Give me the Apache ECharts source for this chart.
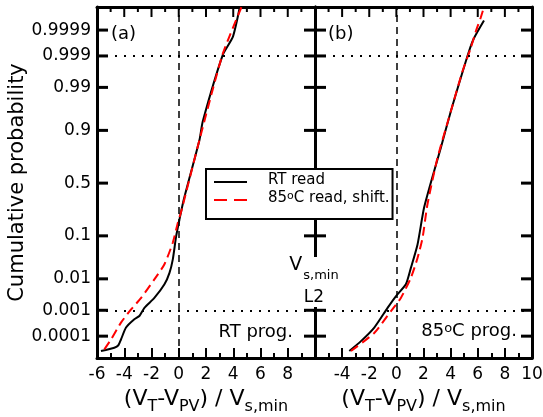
<!DOCTYPE html>
<html>
<head>
<meta charset="utf-8">
<script src="https://cdn.jsdelivr.net/npm/echarts@6/dist/echarts.min.js"></script>
<style>
html, body { margin: 0; padding: 0; background: #fff; }
#chart { width: 543px; height: 417px; }
</style>
</head>
<body>
<div id="chart"></div>
<script>
// probability scale ticks
var probTicks = [0.0001, 0.001, 0.01, 0.1, 0.5, 0.9, 0.99, 0.999, 0.9999];
var probLabels = ['0.0001', '0.001', '0.01', '0.1', '0.5', '0.9', '0.99', '0.999', '0.9999'];
var refProbs = [0.001, 0.999];
// x tick positions mirrored on the top edge (majors are the even ones)
var xTicks = [-6, -5, -4, -3, -2, -1, 0, 1, 2, 3, 4, 5, 6, 7, 8, 9, 10];

// (a) RT prog.
var aRtX = [-5.71, -4.73, -4.43, -4.24, -3.87, -3.26, -2.89, -2.52, -1.79, -1.05, -0.68, -0.44, -0.19, 0.05, 0.37, 1.52, 1.76, 3.24, 3.97, 4.46];
var aRtP = [0.0000225, 0.0000317, 0.0000407, 0.0000723, 0.000224, 0.000466, 0.000619, 0.00122, 0.00264, 0.00695, 0.0146, 0.0314, 0.0985, 0.187, 0.345, 0.853, 0.933, 0.9991, 0.99981, 0.999989];
var aHotX = [-5.46, -4.97, -4.24, -3.50, -2.76, -1.79, -1.05, -0.44, -0.07, 0.22, 1.52, 3.21, 4.61];
var aHotP = [0.0000267, 0.0000723, 0.000350, 0.00107, 0.00264, 0.00964, 0.0244, 0.0735, 0.166, 0.2611, 0.853, 0.9991, 0.9999907];

// (b) 85C prog.
var bRtX = [-3.47, -2.61, -1.63, -0.65, -0.04, 0.70, 1.07, 1.56, 2.04, 2.78, 3.27, 4.01, 4.74, 5.35, 5.72, 6.46];
var bRtP = [0.0000225, 0.0000615, 0.000224, 0.00122, 0.00298, 0.00695, 0.0197, 0.0681, 0.2743, 0.6141, 0.8023, 0.9591, 0.99461, 0.99931, 0.999784, 0.999961];
var bHotX = [-3.35, -1.63, -0.40, 0.33, 1.07, 1.56, 1.93, 2.29, 3.03, 4.01, 4.87, 5.48, 5.85, 6.21, 6.46];
var bHotP = [0.0000225, 0.000136, 0.000936, 0.00264, 0.0107, 0.0344, 0.0918, 0.3015, 0.7291, 0.9591, 0.99664, 0.99948, 0.999883, 0.99997, 0.9999907];

var FONT = 'DejaVu Sans';
var nameRt = 'RT read';
var nameHot = '85°C read, shift.';
var X_MIN = -6, X_MAX = 10;
var Y_MIN = -4.25, Y_MAX = 4.28;

// inverse normal cdf (Acklam), used as the probability-scale transform
function probit(p) {
    var a = [-3.969683028665376e+01, 2.209460984245205e+02, -2.759285104469687e+02, 1.383577518672690e+02, -3.066479806614716e+01, 2.506628277459239e+00];
    var b = [-5.447609879822406e+01, 1.615858368580409e+02, -1.556989798598866e+02, 6.680131188771972e+01, -1.328068155288572e+01];
    var c = [-7.784894002430293e-03, -3.223964580411365e-01, -2.400758277161838e+00, -2.549732539343734e+00, 4.374664141464968e+00, 2.938163982698783e+00];
    var d = [7.784695709041462e-03, 3.224671290700398e-01, 2.445134137142996e+00, 3.754408661907416e+00];
    var plow = 0.02425, q, r;
    if (p < plow) {
        q = Math.sqrt(-2 * Math.log(p));
        return (((((c[0] * q + c[1]) * q + c[2]) * q + c[3]) * q + c[4]) * q + c[5]) / ((((d[0] * q + d[1]) * q + d[2]) * q + d[3]) * q + 1);
    }
    if (p > 1 - plow) {
        q = Math.sqrt(-2 * Math.log(1 - p));
        return -(((((c[0] * q + c[1]) * q + c[2]) * q + c[3]) * q + c[4]) * q + c[5]) / ((((d[0] * q + d[1]) * q + d[2]) * q + d[3]) * q + 1);
    }
    q = p - 0.5;
    r = q * q;
    return (((((a[0] * r + a[1]) * r + a[2]) * r + a[3]) * r + a[4]) * r + a[5]) * q / (((((b[0] * r + b[1]) * r + b[2]) * r + b[3]) * r + b[4]) * r + 1);
}

var tickZ = probTicks.map(probit);

function labelFor(v) {
    var best = 0;
    for (var i = 1; i < tickZ.length; i++) {
        if (Math.abs(tickZ[i] - v) < Math.abs(tickZ[best] - v)) best = i;
    }
    return probLabels[best];
}

var xName = '{n|(V}{s|T}{n|-V}{s|PV}{n|) / V}{s|s,min}';
var xNameRich = {
    n: {fontSize: 22, lineHeight: 26, verticalAlign: 'top', fontFamily: FONT, color: '#000'},
    s: {fontSize: 16, lineHeight: 15, verticalAlign: 'top', padding: [11, 0, 0, 0], fontFamily: FONT, color: '#000'}
};

function makeX(gi, pos, hideVal) {
    var ax = {
        type: 'value', gridIndex: gi, position: pos,
        min: X_MIN, max: X_MAX, interval: 2,
        axisLine: {show: true, onZero: false, lineStyle: {color: '#000', width: 3}},
        axisTick: {show: true, inside: true, length: 10, lineStyle: {color: '#000', width: 2}},
        minorTick: {show: true, splitNumber: 2, length: 5, lineStyle: {color: '#000', width: 2}},
        splitLine: {show: false},
        axisLabel: {show: false}
    };
    if (pos === 'bottom') {
        ax.axisLabel = {
            show: true, margin: 8, fontSize: 17, fontFamily: FONT, color: '#000',
            showMinLabel: true, showMaxLabel: true,
            formatter: function (v) { return v === hideVal ? '' : String(v); }
        };
        ax.name = xName;
        ax.nameLocation = 'middle';
        ax.nameGap = 28;
        ax.nameTextStyle = {rich: xNameRich};
    } else {
        ax.axisTick = {show: false};
        ax.minorTick = {show: false};
    }
    return ax;
}

function makeY(gi, pos, withLabels) {
    var ax = {
        type: 'value', gridIndex: gi, position: pos,
        min: Y_MIN, max: Y_MAX,
        axisLine: {show: true, onZero: false, lineStyle: {color: '#000', width: 3}},
        axisTick: {show: false},
        splitLine: {show: false},
        axisLabel: {show: false}
    };
    if (withLabels) {
        ax.axisLabel = {
            show: true, customValues: tickZ, margin: 6,
            fontSize: 17, fontFamily: FONT, color: '#000',
            formatter: labelFor
        };
        ax.name = 'Cumulative probability';
        ax.nameLocation = 'middle';
        ax.nameGap = 63;
        ax.nameTextStyle = {fontSize: 21, fontFamily: FONT, color: '#000'};
    }
    return ax;
}

function toPairs(xs, ps) {
    return xs.map(function (x, i) { return [x, probit(ps[i])]; });
}

var refLines = {
    silent: true,
    symbol: ['none', 'none'],
    label: {show: false},
    animation: false,
    data: [
        {xAxis: 0, lineStyle: {color: '#000', width: 1.5, type: [7, 5]}},
        {yAxis: probit(refProbs[0]), lineStyle: {color: '#000', width: 2, type: [2, 7]}},
        {yAxis: probit(refProbs[1]), lineStyle: {color: '#000', width: 2, type: [2, 7]}}
    ]
};

function curve(name, gi, xs, ps, hot) {
    var s = {
        name: name, type: 'line',
        xAxisIndex: gi * 2, yAxisIndex: gi * 2,
        data: toPairs(xs, ps),
        symbol: 'none', smooth: 0.2, clip: true,
        lineStyle: {color: hot ? '#ff0000' : '#000', width: 2, type: hot ? [9, 5] : 'solid'},
        itemStyle: {color: hot ? '#ff0000' : '#000'},
        z: hot ? 4 : 3
    };
    if (!hot) s.markLine = refLines;
    return s;
}

// probability ticks on both vertical edges of a panel, pointing inward
function probTickSeries(gi) {
    return {
        type: 'custom',
        xAxisIndex: gi * 2, yAxisIndex: gi * 2,
        silent: true, z: 5,
        data: tickZ.map(function (z) { return [X_MIN, z]; }),
        renderItem: function (params, api) {
            var l = api.coord([X_MIN, api.value(1)]);
            var r = api.coord([X_MAX, api.value(1)]);
            var st = {stroke: '#000', lineWidth: 3};
            return {
                type: 'group',
                children: [
                    {type: 'line', shape: {x1: l[0], y1: l[1], x2: l[0] + 11, y2: l[1]}, style: st},
                    {type: 'line', shape: {x1: r[0], y1: r[1], x2: r[0] - 11, y2: r[1]}, style: st}
                ]
            };
        }
    };
}

var graphics = [
    {type: 'rect', shape: {x: 302, y: 257, width: 26, height: 50}, style: {fill: '#fff'}, z: 20},
    {
        type: 'text', x: 314, y: 256, z: 21,
        style: {
            text: '{v|V}{s|s,min}', align: 'center', verticalAlign: 'top',
            rich: {
                v: {fontSize: 19, lineHeight: 26, verticalAlign: 'top', fontFamily: FONT, fill: '#000'},
                s: {fontSize: 13, lineHeight: 13, verticalAlign: 'top', padding: [13, 0, 0, 1], fontFamily: FONT, fill: '#000'}
            }
        }
    },
    {type: 'text', x: 314, y: 298, z: 21, style: {text: 'L2', fontSize: 17, fontFamily: FONT, fill: '#000', align: 'center', verticalAlign: 'middle'}},
    {type: 'text', x: 111, y: 34, z: 21, style: {text: '(a)', fontSize: 18, fontFamily: FONT, fill: '#000', align: 'left', verticalAlign: 'middle'}},
    {type: 'text', x: 328, y: 34, z: 21, style: {text: '(b)', fontSize: 18, fontFamily: FONT, fill: '#000', align: 'left', verticalAlign: 'middle'}},
    {type: 'text', x: 293, y: 332, z: 21, style: {text: 'RT prog.', fontSize: 18, fontFamily: FONT, fill: '#000', align: 'right', verticalAlign: 'middle'}},
    {
        type: 'text', x: 517, y: 332, z: 21,
        style: {
            text: '{t|85}{sup|o}{t|C prog.}', align: 'right', verticalAlign: 'middle',
            rich: {
                t: {fontSize: 18, lineHeight: 20, verticalAlign: 'top', fontFamily: FONT, fill: '#000'},
                sup: {fontSize: 13, lineHeight: 12, verticalAlign: 'top', padding: [0, 0, 8, 0], fontFamily: FONT, fill: '#000'}
            }
        }
    }
];

var chart = echarts.init(document.getElementById('chart'));

var option = {
    animation: false,
    backgroundColor: '#fff',
    grid: [
        {left: 97, top: 7, width: 218, height: 351, outerBoundsMode: 'none'},
        {left: 315, top: 7, width: 217, height: 351, outerBoundsMode: 'none'}
    ],
    xAxis: [makeX(0, 'bottom', 10), makeX(0, 'top'), makeX(1, 'bottom', -6), makeX(1, 'top')],
    yAxis: [makeY(0, 'left', true), makeY(0, 'right', false), makeY(1, 'left', false), makeY(1, 'right', false)],
    legend: {
        left: 206, top: 169,
        orient: 'vertical',
        padding: [4, 3, 9, 7],
        itemWidth: 33, itemHeight: 14, itemGap: 3,
        backgroundColor: '#fff',
        borderColor: '#000', borderWidth: 2, borderRadius: 0,
        selectedMode: false,
        itemStyle: {color: 'rgba(0,0,0,0)', borderColor: 'rgba(0,0,0,0)', borderWidth: 0, opacity: 0},
        data: [
            {name: nameRt},
            {name: nameHot, lineStyle: {type: [13, 7]}}
        ],
        formatter: function (name) {
            return name === nameHot ? '{t|85}{sup|o}{t|C read, shift.}' : '{t|RT read}';
        },
        textStyle: {
            fontSize: 15, fontFamily: FONT, color: '#000',
            padding: [0, 0, 0, 16],
            rich: {
                t: {fontSize: 15, lineHeight: 18, verticalAlign: 'top', fontFamily: FONT, color: '#000'},
                sup: {fontSize: 11, lineHeight: 10, verticalAlign: 'top', padding: [0, 0, 8, 0], fontFamily: FONT, color: '#000'}
            }
        },
        z: 10
    },
    graphic: graphics,
    series: [
        curve(nameRt, 0, aRtX, aRtP, false),
        curve(nameHot, 0, aHotX, aHotP, true),
        curve(nameRt, 1, bRtX, bRtP, false),
        curve(nameHot, 1, bHotX, bHotP, true),
        probTickSeries(0),
        probTickSeries(1)
    ]
};

chart.setOption(option);

// mirrored x ticks on the top edge, placed through the axes' own scale
var topTicks = [];
[0, 1].forEach(function (gi) {
    xTicks.forEach(function (v) {
        var p = chart.convertToPixel({xAxisIndex: gi * 2, yAxisIndex: gi * 2}, [v, Y_MAX]);
        if (!p || !isFinite(p[0]) || !isFinite(p[1])) return;
        var len = Math.abs(v) % 2 === 0 ? 10 : 5;
        topTicks.push({
            type: 'line', z: 30, silent: true,
            shape: {x1: p[0], y1: p[1], x2: p[0], y2: p[1] + len},
            style: {stroke: '#000', lineWidth: 2}
        });
    });
});
chart.setOption({graphic: graphics.concat(topTicks)});
</script>
</body>
</html>
